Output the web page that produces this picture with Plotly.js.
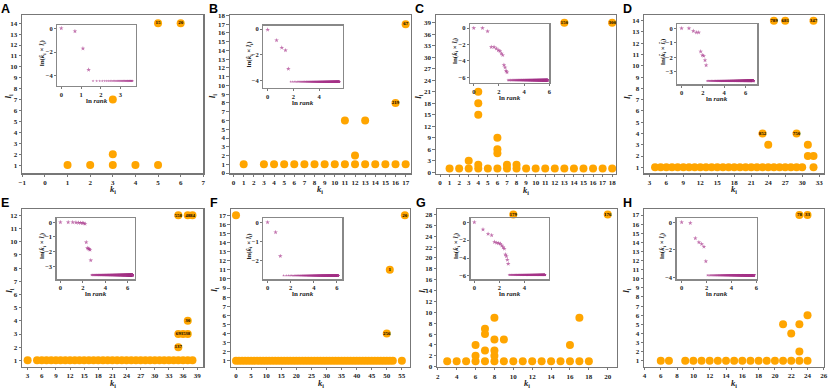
<!DOCTYPE html>
<html>
<head>
<meta charset="utf-8">
<script src="https://cdn.plot.ly/plotly-3.0.1.min.js"></script>
<style>body{margin:0;background:#fff;} #chart{width:830px;height:388px;}</style>
</head>
<body>
<div id="chart"></div>
<script>
// main scatter: k_i, l_i and the node labels drawn on some points
// inset: head of the ranked ln(k*l) curve, then the flat tail value and the number of ranks
var aK = [1, 2, 3, 4, 5, 3, 3, 5, 6];
var aL = [1, 1, 1, 1, 1, 2, 7, 14, 14];
var aLab = ['', '', '', '', '', '', '', '15', '20'];
var aHead = [0, -0.25, -1.7, -3.5];
var aTail = -4.45, aN = 37;

var bK = [1, 3, 4, 5, 6, 7, 8, 9, 10, 11, 12, 13, 14, 15, 16, 17, 11, 13, 12, 16, 17];
var bL = [1, 1, 1, 1, 1, 1, 1, 1, 1, 1, 1, 1, 1, 1, 1, 1, 6, 6, 2, 8, 17];
var bLab = ['', '', '', '', '', '', '', '', '', '', '', '', '', '', '', '', '', '', '', '219', '67'];
var bHead = [-0.05, -0.88, -1.45, -1.66, -3.1];
var bTail = -4.1, bN = 265;

var cK = [1, 2, 3, 4, 5, 6, 7, 8, 9, 10, 11, 12, 13, 14, 15, 16, 17, 18, 3, 4, 4, 4, 4, 6, 6, 6, 7, 8, 13, 18];
var cL = [1, 1, 1, 1, 1, 1, 1, 1, 1, 1, 1, 1, 1, 1, 1, 1, 1, 1, 3, 2, 15, 18, 21, 5, 6, 9, 2, 2, 39, 39];
var cLab = ['', '', '', '', '', '', '', '', '', '', '', '', '', '', '', '', '', '', '', '', '', '', '', '', '', '', '', '', '150', '300'];
var cHead = [0, 0, -0.4, -2.3, -2.3, -2.5, -2.7, -2.8, -3.1, -3.3, -4.5, -4.8, -5.2, -5.4];
var cTail = -6.35, cN = 355;

var dK = [4, 5, 6, 7, 8, 9, 10, 11, 12, 13, 14, 15, 16, 17, 18, 19, 20, 21, 22, 23, 24, 25, 26, 27, 28, 29, 30, 32,
  23, 24, 29, 31, 31, 32, 25, 27, 32];
var dL = [1, 1, 1, 1, 1, 1, 1, 1, 1, 1, 1, 1, 1, 1, 1, 1, 1, 1, 1, 1, 1, 1, 1, 1, 1, 1, 1, 1,
  4, 3, 4, 2, 3, 2, 14, 14, 14];
var dLab = ['', '', '', '', '', '', '', '', '', '', '', '', '', '', '', '', '', '', '', '', '', '', '', '', '', '', '', '',
  '852', '', '750', '', '', '', '789', '681', '347'];
var dHead = [0, 0, -0.18, -0.28, -0.28, -1.6, -1.85, -1.9, -2.2, -2.55];
var dTail = -3.63, dN = 850;

var eK = [3, 5, 6, 7, 8, 9, 10, 11, 12, 13, 14, 15, 16, 17, 18, 19, 20, 21, 22, 23, 24, 25, 26, 27, 28, 29, 30,
  31, 32, 33, 34, 35, 36, 37, 38, 35, 35, 36, 37, 37, 35, 37, 38];
var eL = [1, 1, 1, 1, 1, 1, 1, 1, 1, 1, 1, 1, 1, 1, 1, 1, 1, 1, 1, 1, 1, 1, 1, 1, 1, 1, 1,
  1, 1, 1, 1, 1, 1, 1, 1, 2, 3, 3, 3, 4, 12, 12, 12];
var eLab = ['', '', '', '', '', '', '', '', '', '', '', '', '', '', '', '', '', '', '', '', '', '', '', '', '', '', '',
  '', '', '', '', '', '', '', '', '137', '69', '35', '38', '30', '558', '48', '84'];
var eHead = [0, 0, 0, -0.02, -0.03, -0.04, -0.05, -0.06, -0.1, -1.36, -1.75, -1.8, -1.82, -1.88, -2.6];
var eTail = -3.6, eN = 630;

var fK = [0, 1, 2, 3, 4, 5, 6, 7, 8, 9, 10, 11, 12, 13, 14, 15, 16, 17, 18, 19, 20, 21, 22, 23, 24, 25, 26,
  27, 28, 29, 30, 31, 32, 33, 34, 35, 36, 37, 38, 39, 40, 41, 42, 43, 44, 45, 46, 47, 48, 49, 50, 51, 52, 55,
  0, 56, 51, 50];
var fL = [1, 1, 1, 1, 1, 1, 1, 1, 1, 1, 1, 1, 1, 1, 1, 1, 1, 1, 1, 1, 1, 1, 1, 1, 1, 1, 1,
  1, 1, 1, 1, 1, 1, 1, 1, 1, 1, 1, 1, 1, 1, 1, 1, 1, 1, 1, 1, 1, 1, 1, 1, 1, 1, 1,
  17, 17, 11, 4];
var fLab = fK.map(function () { return ''; });
fLab[55] = '20'; fLab[56] = '1'; fLab[57] = '256';
var fHead = [0, -0.52, -1.76];
var fTail = -2.77, fN = 450;

var gK = [3, 4, 5, 6, 7, 8, 9, 10, 11, 12, 13, 14, 15, 16, 17, 18,
  6, 6, 7, 7, 7, 8, 8, 8, 8, 9, 16, 17, 10, 20];
var gL = [1, 1, 1, 1, 1, 1, 1, 1, 1, 1, 1, 1, 1, 1, 1, 1,
  2, 4, 3, 6, 7, 2, 3, 5, 9, 5, 4, 9, 28, 28];
var gLab = ['', '', '', '', '', '', '', '', '', '', '', '', '', '', '', '',
  '', '', '', '', '', '', '', '', '', '', '', '', '179', '176'];
var gHead = [0, -0.8, -1.3, -1.45, -2.2, -2.3, -2.35, -2.4, -2.6, -2.8, -2.95, -3.6, -3.8, -4.2, -4.65];
var gTail = -5.9, gN = 285;

var hK = [6, 7, 9, 10, 11, 12, 13, 14, 15, 16, 17, 18, 19, 20, 21, 22, 23, 24,
  21, 22, 23, 23, 24, 23, 24];
var hL = [1, 1, 1, 1, 1, 1, 1, 1, 1, 1, 1, 1, 1, 1, 1, 1, 1, 1,
  5, 4, 2, 5, 6, 17, 17];
var hLab = ['', '', '', '', '', '', '', '', '', '', '', '', '', '', '', '', '', '',
  '', '', '', '', '', '78', '33'];
var hHead = [0, -0.05, -1.15, -1.45, -1.57, -1.76, -2.82];
var hTail = -3.83, hN = 345;

// layout of every panel, in pixels of the 830x388 figure (yto: offset of the l_i title)
var panels = [
  {name: 'A', k: aK, l: aL, lab: aLab, head: aHead, tail: aTail, n: aN,
    box: [22.3, 203.3, 15, 173.3], ins: [57.3, 135.7, 25, 86], yto: -14,
    xr: [-1, 7], yr: [0.25, 14.75], xt: [-1, 1], yt: [1, 1],
    ixr: [-0.2, 3.77], iyr: [-4.87, 0.28], ixd: 1, iyd: 2},
  {name: 'B', k: bK, l: bL, lab: bLab, head: bHead, tail: bTail, n: bN,
    box: [230, 410.7, 15, 173.3], ins: [263.3, 342.7, 25.7, 87.7], yto: -18,
    xr: [-0.35, 17.5], yr: [-0.03, 18.05], xt: [0, 1], yt: [0, 1],
    ixr: [-0.34, 5.84], iyr: [-4.57, 0.26], ixd: 2, iyd: 2},
  {name: 'C', k: cK, l: cL, lab: cLab, head: cHead, tail: cTail, n: cN,
    box: [436, 616, 15, 173.5], ins: [470, 549.3, 24, 83], yto: -17.5,
    xr: [-0.42, 18.4], yr: [-0.3, 41], xt: [0, 1], yt: [0, 3],
    ixr: [-0.3, 6.0], iyr: [-6.7, 0.5], ixd: 2, iyd: 2},
  {name: 'D', k: dK, l: dL, lab: dLab, head: dHead, tail: dTail, n: dN,
    box: [644.3, 823.7, 15, 173.3], ins: [677.3, 757.3, 24, 84.3], yto: -17.5,
    xr: [2.1, 33.8], yr: [0.47, 14.5], xt: [3, 3], yt: [1, 1],
    ixr: [-0.4, 7.1], iyr: [-3.86, 0.3], ixd: 2, iyd: 1},
  {name: 'E', k: eK, l: eL, lab: eLab, head: eHead, tail: eTail, n: eN,
    box: [22.3, 203.3, 209, 366.7], ins: [56.7, 135, 218.3, 279.3], yto: -12.5,
    xr: [1.87, 40.3], yr: [0.52, 12.48], xt: [3, 3], yt: [1, 1],
    ixr: [-0.33, 6.65], iyr: [-3.89, 0.27], ixd: 2, iyd: 1},
  {name: 'F', k: fK, l: fL, lab: fLab, head: fHead, tail: fTail, n: fN,
    box: [231, 410, 209, 366.7], ins: [263.3, 342.3, 218.3, 279.3], yto: -16,
    xr: [-1.66, 57.7], yr: [0.34, 17.7], xt: [0, 5], yt: [1, 1],
    ixr: [-0.37, 6.46], iyr: [-2.97, 0.21], ixd: 2, iyd: 1},
  {name: 'G', k: gK, l: gL, lab: gLab, head: gHead, tail: gTail, n: gN,
    box: [437.3, 616.7, 209, 367], ins: [470.7, 549, 218.3, 279.3], yto: -15.5,
    xr: [1.95, 20.95], yr: [-0.05, 29], xt: [2, 2], yt: [0, 2],
    ixr: [-0.29, 5.97], iyr: [-6.38, 0.45], ixd: 2, iyd: 2},
  {name: 'H', k: hK, l: hL, lab: hLab, head: hHead, tail: hTail, n: hN,
    box: [644.3, 824, 209, 366.7], ins: [676.7, 757, 218.3, 279.3], yto: -17.5,
    xr: [3.98, 26.02], yr: [0.34, 17.66], xt: [4, 2], yt: [1, 1],
    ixr: [-0.4, 6.06], iyr: [-4.12, 0.29], ixd: 2, iyd: 2}
];

var W = 830, H = 388;
var serif = 'Liberation Serif, Times New Roman, serif';

function rankCurve(head, tailVal, n) {
  var x = [], y = [], s = [];
  for (var r = 1; r <= n; r++) {
    x.push(Math.log(r));
    y.push(r <= head.length ? head[r - 1] : tailVal);
    s.push(r <= head.length ? 3.5 : 2.2);
  }
  return {x: x, y: y, s: s};
}

function axis(dom, range, t0, dt, anchor, fs, col, lw, tl) {
  return {
    domain: dom, range: range, anchor: anchor,
    tickmode: 'linear', tick0: t0, dtick: dt,
    showgrid: false, zeroline: false,
    showline: true, mirror: true, linecolor: col, linewidth: lw,
    ticks: 'outside', ticklen: tl, tickwidth: 0.8, tickcolor: '#555',
    tickfont: {family: serif, size: fs, weight: 'bold', color: '#222'},
    automargin: false, fixedrange: true
  };
}

function label(text, px, py, size, rot) {
  return {
    text: text, xref: 'paper', yref: 'paper', x: px / W, y: 1 - py / H,
    xanchor: 'center', yanchor: 'middle', showarrow: false, textangle: rot || 0,
    borderpad: 0,
    font: {family: serif, size: size, weight: 'bold', color: '#222'}
  };
}

var data = [];
var layout = {
  width: W, height: H,
  margin: {l: 0, r: 0, t: 0, b: 0},
  paper_bgcolor: '#fff', plot_bgcolor: 'rgba(0,0,0,0)',
  showlegend: false, hovermode: false,
  annotations: []
};

panels.forEach(function (p, i) {
  var mi = 2 * i + 1, ii = 2 * i + 2;
  var mx = 'x' + mi, my = 'y' + mi, ix = 'x' + ii, iy = 'y' + ii;

  data.push({
    type: 'scatter', mode: 'markers', x: p.k, y: p.l,
    xaxis: mx, yaxis: my, cliponaxis: false,
    marker: {color: '#ffa500', size: 8, line: {width: 0}}
  });

  // node labels only where the point carries one
  var tx = [], ty = [], tt = [];
  p.lab.forEach(function (s, j) {
    if (s) { tx.push(p.k[j]); ty.push(p.l[j]); tt.push(s); }
  });
  data.push({
    type: 'scatter', mode: 'text', x: tx, y: ty, text: tt,
    xaxis: mx, yaxis: my, cliponaxis: false,
    textposition: 'middle center',
    textfont: {family: serif, size: 5, weight: 'bold', color: '#000'}
  });

  var rc = rankCurve(p.head, p.tail, p.n);
  data.push({
    type: 'scatter', mode: 'markers', x: rc.x, y: rc.y,
    xaxis: ix, yaxis: iy,
    marker: {color: '#a8388c', size: rc.s, symbol: 'star', line: {width: 0}}
  });

  var b = p.box, q = p.ins;
  layout['xaxis' + mi] = axis([b[0] / W, b[1] / W], p.xr, p.xt[0], p.xt[1], my, 7, '#777', 1.2, 2);
  layout['yaxis' + mi] = axis([1 - b[3] / H, 1 - b[2] / H], p.yr, p.yt[0], p.yt[1], mx, 7, '#777', 1.2, 2.5);
  layout['xaxis' + ii] = axis([q[0] / W, q[1] / W], p.ixr, 0, p.ixd, iy, 6.5, '#888', 1.3, 2);
  layout['yaxis' + ii] = axis([1 - q[3] / H, 1 - q[2] / H], p.iyr, 0, p.iyd, ix, 6.5, '#888', 1.3, 2);

  // axis titles
  layout.annotations.push(label('<i>k</i><sub>i</sub>', (b[0] + b[1]) / 2, b[3] + 16.5, 8.5));
  layout.annotations.push(label('<i>l</i><sub>i</sub>', b[0] + p.yto, (b[2] + b[3]) / 2 + 2, 9, -90));
  layout.annotations.push(label('ln <i>rank</i>', (q[0] + q[1]) / 2, q[3] + 15, 7));
  layout.annotations.push(label('ln(<i>k&#770;</i><sub>i</sub> × <i>l&#770;</i><sub>i</sub>)',
    q[0] - 14.5, (q[2] + q[3]) / 2 - 3, 7, -90));

  layout.annotations.push({
    text: p.name, xref: 'paper', yref: 'paper',
    x: (b[0] - 23) / W, y: 1 - (b[2] - 15.5) / H,
    xanchor: 'left', yanchor: 'top', showarrow: false,
    font: {family: 'Liberation Sans, Arial, sans-serif', size: 12.5, weight: 'bold', color: '#000'}
  });
});

Plotly.newPlot('chart', data, layout, {displayModeBar: false, staticPlot: true});
</script>
</body>
</html>
